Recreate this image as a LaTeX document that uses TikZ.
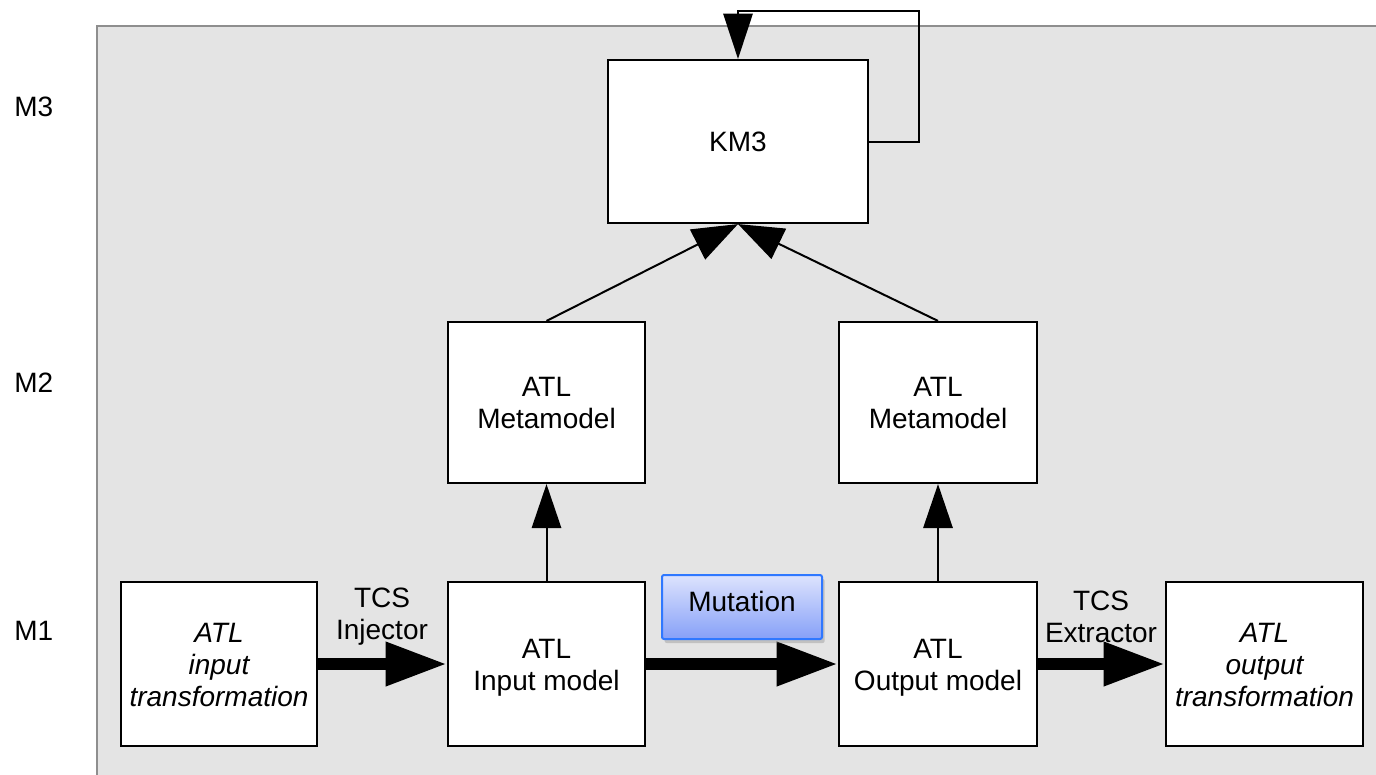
\documentclass[tikz,border=0pt]{standalone}
\usepackage{fontspec}
\setmainfont{Liberation Sans}
\usetikzlibrary{arrows.meta,fit,shadows}
\definecolor{panel}{HTML}{E4E4E4}
\definecolor{panelrule}{HTML}{8E8E8E}
\definecolor{mutborder}{HTML}{2F78FF}
\definecolor{muttop}{HTML}{DDE3FD}
\definecolor{mutbottom}{HTML}{86A0F8}
\begin{document}
\begin{tikzpicture}[x=0.75pt,y=-0.75pt,
  txt/.style={font=\fontsize{21}{24}\selectfont, align=center, inner sep=0pt},
  box/.style={txt, draw=black, line width=1.6pt, fill=white, inner sep=0pt},
  thin/.style={line width=1.5pt},
  bigflow/.style={line width=9pt, -{Triangle[length=46pt,width=31pt]}},
  upmeta/.style={thin, -{Triangle[length=33pt,width=22pt]}},
  tokm/.style={thin, -{Triangle[length=34pt,width=25pt]}},
  levellabel/.style={txt, anchor=west}
]
\useasboundingbox (0,0) rectangle (1376,774);

% grey panel
\fill[panel] (97,26) rectangle (1380,780);
\draw[panelrule, line width=1.5pt] (1380,26) -- (97,26) -- (97,780);

% level labels
\node[levellabel] (m3) at (14,107) {M3};
\node[levellabel] (m2) at (14,383) {M2};
\node[levellabel] (m1) at (14,631) {M1};

% boxes
\node[box, fit={(608,60) (868,223)}] (km3) {};
\node[txt] at (km3.center) {KM3};

\node[box, fit={(448,322) (645,483)}] (mml) {};
\node[txt] at (mml.center) {ATL\\Metamodel};
\node[box, fit={(839,322) (1037,483)}] (mmr) {};
\node[txt] at (mmr.center) {ATL\\Metamodel};

\node[box, fit={(121,582) (317,746)}] (itr) {};
\node[txt] at ([yshift=-0.75pt]itr.center) {\itshape ATL\\\itshape input\\\itshape transformation};
\node[box, fit={(448,582) (645,746)}] (imod) {};
\node[txt] at ([yshift=-2.5pt]imod.center) {ATL\\Input model};
\node[box, fit={(839,582) (1037,746)}] (omod) {};
\node[txt] at ([yshift=-2.5pt]omod.center) {ATL\\Output model};
\node[box, fit={(1166,582) (1363,746)}] (otr) {};
\node[txt] at ([yshift=-0.75pt]otr.center) {\itshape ATL\\\itshape output\\\itshape transformation};

% conformance links
\draw[upmeta] (imod.north) -- (mml.south);
\draw[upmeta] (omod.north) -- (mmr.south);
\draw[tokm] (mml.north) -- (km3.south);
\draw[tokm] (mmr.north) -- (km3.south);
\coordinate (loopa) at (919,141.5);
\coordinate (loopb) at (919,11);
\coordinate (loopc) at (738,11);
\draw[thin, -{Triangle[length=34pt,width=22pt]}, line join=miter]
  (km3.east) -- (loopa) -- (loopb) -- (loopc) -- (km3.north);

% transformation chain
\draw[bigflow] (itr.east) -- (imod.west);
\draw[bigflow] (imod.east) -- (omod.west);
\draw[bigflow] (omod.east) -- (otr.west);

\node[txt] (inj) at (382,617) {TCS\\Injector};
\node[txt] (ext) at (1101,617) {TCS\\Extractor};

% mutation tag
\node[txt, draw=mutborder, line width=1.5pt, rounded corners=1.5pt,
      top color=muttop, bottom color=mutbottom,
      drop shadow={opacity=0.35, shadow xshift=2pt, shadow yshift=-3pt},
      fit={(662,575) (822,639)}] (mut) {};
\node[txt] at (742,601) {Mutation};
\end{tikzpicture}
\end{document}
